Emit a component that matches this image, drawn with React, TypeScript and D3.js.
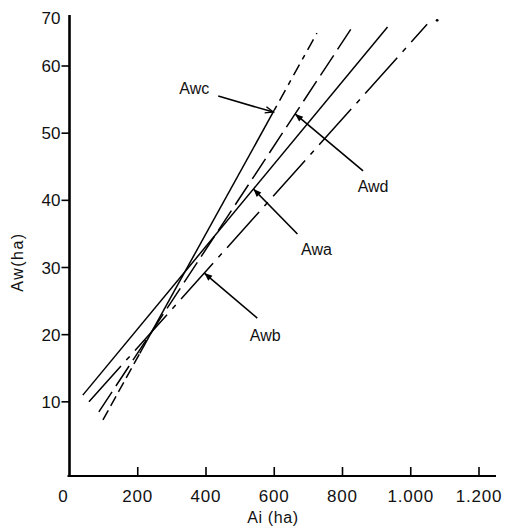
import React from "react";
import * as d3 from "d3";

// ---- data ----
const aiTicks = [0, 200, 400, 600, 800, 1000, 1200];
const aiTickLabels = ["0", "200", "400", "600", "800", "1.000", "1.200"];
const awTicks = [10, 20, 30, 40, 50, 60];
const awTickLabels = ["10", "20", "30", "40", "50", "60"];
const awTopLabel = "70";

const seriesNames = ["Awa", "Awb", "Awc", "Awd"];
// straight lines: [start, end] in (Ai ha, Aw ha)
const awaAi = [39, 932];
const awaAw = [11.0, 65.8];
const awbAi = [57, 1048];
const awbAw = [10.0, 66.2];
const awcAi = [98, 725];
const awcAw = [7.3, 64.9];
const awdAi = [86, 830];
const awdAw = [8.5, 65.9];

// Ai at which each leader arrow touches its line
const arrowTipAi = [539, 395, 597, 661];
// Awc drawn solid between these Ai values
const awcSolidAi = [206, 600];

// ---- layout ----
const W = 513;
const H = 526;
const FONT = "'Liberation Sans', Arial, Helvetica, sans-serif";

const x = d3.scaleLinear().domain([0, 1200]).range([69.5, 479]);
const y = d3.scaleLinear().domain([0, 60]).range([469, 66]);
const xAxisY = 476;
const yAxisTop = 15;
const xAxisEnd = 496;

const seriesAi = [awaAi, awbAi, awcAi, awdAi];
const seriesAw = [awaAw, awbAw, awcAw, awdAw];

const annot = [
  { tail: [44, 45], label: [63, 66] },
  { tail: [53, 45], label: [61, 68] },
  { tail: [-55, -16], label: [-79, -18] },
  { tail: [68, 57], label: [78, 78] },
];

function awOn(i: number, ai: number) {
  const A = seriesAi[i];
  const B = seriesAw[i];
  return B[0] + ((ai - A[0]) * (B[1] - B[0])) / (A[1] - A[0]);
}

const line = d3
  .line<[number, number]>()
  .x((d) => x(d[0]))
  .y((d) => y(d[1]));

function seg(i: number, a0: number, a1: number) {
  return line([
    [a0, awOn(i, a0)],
    [a1, awOn(i, a1)],
  ]) as string;
}

function Arrow({ tip, tail, filled }: { tip: [number, number]; tail: [number, number]; filled: boolean }) {
  const dx = tail[0] - tip[0];
  const dy = tail[1] - tip[1];
  const len = Math.hypot(dx, dy);
  const ux = dx / len;
  const uy = dy / len;
  const L = 8;
  const Wd = 3.2;
  const bx = tip[0] + ux * L;
  const by = tip[1] + uy * L;
  const p1 = [bx - uy * Wd, by + ux * Wd];
  const p2 = [bx + uy * Wd, by - ux * Wd];
  return (
    <g>
      <line x1={tail[0]} y1={tail[1]} x2={tip[0]} y2={tip[1]} stroke="#000" strokeWidth={1.6} />
      {filled ? (
        <path d={`M${tip[0]},${tip[1]}L${p1[0]},${p1[1]}L${p2[0]},${p2[1]}Z`} fill="#000" />
      ) : (
        <path
          d={`M${p1[0]},${p1[1]}L${tip[0]},${tip[1]}L${p2[0]},${p2[1]}`}
          fill="none"
          stroke="#000"
          strokeWidth={1.4}
        />
      )}
    </g>
  );
}

export default function App() {
  const lw = 1.5;
  return (
    <svg
      width={W}
      height={H}
      style={{ position: "absolute", left: 0, top: 0, background: "#fff" }}
      fontFamily={FONT}
    >
      <rect width={W} height={H} fill="#fff" />
      {/* axes */}
      <line x1={x(0)} y1={yAxisTop} x2={x(0)} y2={xAxisY + 1} stroke="#000" strokeWidth={2.6} />
      <line x1={x(0) - 2} y1={xAxisY} x2={xAxisEnd} y2={xAxisY} stroke="#000" strokeWidth={2.2} />
      {awTicks.map((t, i) => (
        <g key={t}>
          <line x1={x(0) - 8} x2={x(0)} y1={y(t)} y2={y(t)} stroke="#000" strokeWidth={1.6} />
          <text x={x(0) - 9} y={y(t)} dy="0.36em" textAnchor="end" fontSize={17} fill="#111">
            {awTickLabels[i]}
          </text>
        </g>
      ))}
      <text x={x(0) - 9} y={yAxisTop + 3} dy="0.36em" textAnchor="end" fontSize={17} fill="#111">
        {awTopLabel}
      </text>
      {aiTicks.map((t, i) => (
        <g key={t}>
          {t > 0 && (
            <line x1={x(t)} x2={x(t)} y1={xAxisY} y2={xAxisY - 9} stroke="#000" strokeWidth={1.6} />
          )}
          <text
            x={x(t) - (t === 0 ? 6 : 0)}
            y={xAxisY + 26}
            textAnchor="middle"
            fontSize={17}
            letterSpacing={0.8}
            fill="#111"
          >
            {aiTickLabels[i]}
          </text>
        </g>
      ))}
      <text
        transform={`translate(23,262) rotate(-90)`}
        textAnchor="middle"
        fontSize={16}
        letterSpacing={1.5}
        fill="#111"
      >
        Aw(ha)
      </text>
      <text x={273} y={523} textAnchor="middle" fontSize={16} letterSpacing={0.6} fill="#111">
        Ai (ha)
      </text>

      {/* series lines */}
      {/* Awa: solid */}
      <path d={seg(0, awaAi[0], awaAi[1])} stroke="#000" strokeWidth={lw} fill="none" />
      {/* Awb: long dash + dot */}
      <path
        d={seg(1, awbAi[0], awbAi[1])}
        stroke="#000"
        strokeWidth={lw}
        fill="none"
        strokeDasharray="48,8,5,8"
      />
      <circle cx={x(awbAi[1]) + 10} cy={y(awbAw[1]) - 4} r={1.4} fill="#000" />
      {/* Awc: dashed / solid / dash-dot */}
      <path
        d={seg(2, awcAi[0], awcSolidAi[0])}
        stroke="#000"
        strokeWidth={lw}
        fill="none"
        strokeDasharray="11,5"
      />
      <path d={seg(2, awcSolidAi[0], awcSolidAi[1])} stroke="#000" strokeWidth={lw} fill="none" />
      <path
        d={seg(2, awcSolidAi[1], awcAi[1])}
        stroke="#000"
        strokeWidth={lw}
        fill="none"
        strokeDasharray="5,6,12,6"
      />
      {/* Awd: dashed */}
      <path
        d={seg(3, awdAi[0], awdAi[1])}
        stroke="#000"
        strokeWidth={lw}
        fill="none"
        strokeDasharray="24,7"
      />

      {/* annotations */}
      {seriesNames.map((name, i) => {
        const tip: [number, number] = [x(arrowTipAi[i]), y(awOn(i, arrowTipAi[i]))];
        const tail: [number, number] = [tip[0] + annot[i].tail[0], tip[1] + annot[i].tail[1]];
        return (
          <g key={name}>
            <Arrow tip={tip} tail={tail} filled={i !== 2} />
            <text
              x={tip[0] + annot[i].label[0]}
              y={tip[1] + annot[i].label[1]}
              textAnchor="middle"
              fontSize={16}
              fill="#111"
            >
              {name}
            </text>
          </g>
        );
      })}
    </svg>
  );
}
